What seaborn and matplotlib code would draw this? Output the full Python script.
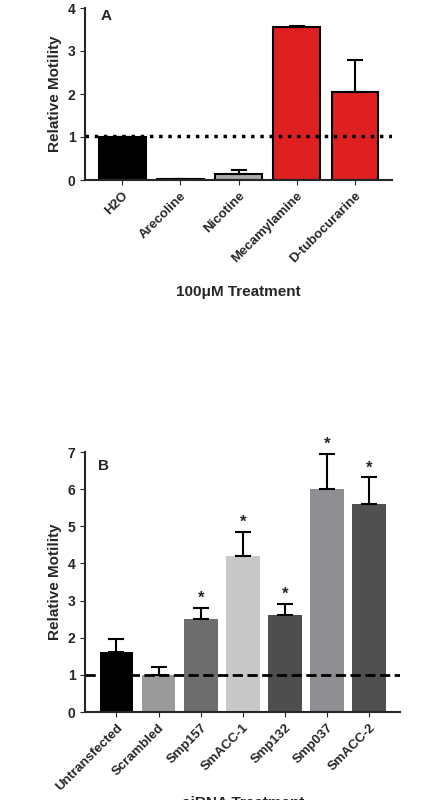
import matplotlib
matplotlib.use("Agg")
import matplotlib.pyplot as plt
import seaborn as sns
import pandas as pd

sns.set_style("ticks")
plt.rcParams['font.family'] = ['Liberation Sans', 'DejaVu Sans']
plt.rcParams['font.weight'] = 'bold'

a_cats = ["H2O", "Arecoline", "Nicotine", "Mecamylamine", "D-tubocurarine"]
a_vals = [1.0, 0.02, 0.15, 3.55, 2.05]
a_err = [0.0, 0.01, 0.08, 0.04, 0.73]
a_cols = ["#000000", "#555555", "#aaaaaa", "#ff0000", "#ff0000"]

b_cats = ["Untransfected", "Scrambled", "Smp157", "SmACC-1", "Smp132", "Smp037", "SmACC-2"]
b_vals = [1.62, 1.0, 2.5, 4.2, 2.62, 6.0, 5.6]
b_err = [0.35, 0.2, 0.3, 0.65, 0.3, 0.95, 0.72]
b_cols = ["#000000", "#9a9a9a", "#6e6e6e", "#c8c8c8", "#4e4e4e", "#8e8e94", "#505050"]
b_star = [False, False, True, True, True, True, True]

fig = plt.figure(figsize=(4.26, 8.0), dpi=100)
ax1 = fig.add_axes([0.2, 0.775, 0.72, 0.215])
ax2 = fig.add_axes([0.2, 0.11, 0.74, 0.325])

def fmt_x(ax):
    for t in ax.get_xticklabels():
        t.set_rotation(45); t.set_ha("right"); t.set_rotation_mode("anchor")
        t.set_fontweight("bold"); t.set_fontsize(9.5)

da = pd.DataFrame({"c": a_cats, "v": a_vals})
sns.barplot(data=da, x="c", y="v", hue="c", palette=a_cols, legend=False, ax=ax1,
            width=0.8, edgecolor="black", linewidth=1.5)
ax1.errorbar(range(len(a_cats)), a_vals, yerr=[[0]*5, a_err], fmt="none",
             ecolor="black", capsize=6, elinewidth=1.5, capthick=1.5)
ax1.axhline(1.03, color="black", ls=":", lw=2.5)
ax1.set_ylim(0, 4)
ax1.set_yticks([0, 1, 2, 3, 4])
ax1.set_ylabel("Relative Motility", fontsize=11, fontweight="bold")
ax1.set_xlabel("100\u03bcM Treatment", fontsize=11, fontweight="bold", labelpad=14)
fmt_x(ax1)
ax1.text(0.05, 0.93, "A", transform=ax1.transAxes, fontsize=11, fontweight="bold")
sns.despine(ax=ax1)

db = pd.DataFrame({"c": b_cats, "v": b_vals})
sns.barplot(data=db, x="c", y="v", hue="c", palette=b_cols, legend=False, ax=ax2,
            width=0.8, linewidth=0)
ax2.errorbar(range(len(b_cats)), b_vals, yerr=[[0]*7, b_err], fmt="none",
             ecolor="black", capsize=6, elinewidth=1.5, capthick=1.5)
for i, s in enumerate(b_star):
    if s:
        ax2.text(i, b_vals[i] + b_err[i] + 0.05, "*", ha="center", va="bottom",
                 fontsize=12, fontweight="bold")
ax2.axhline(1.0, color="black", ls="--", lw=2)
ax2.set_ylim(0, 7)
ax2.set_yticks(range(8))
ax2.set_ylabel("Relative Motility", fontsize=11, fontweight="bold")
ax2.set_xlabel("siRNA Treatment", fontsize=11, fontweight="bold", labelpad=2)
fmt_x(ax2)
ax2.text(0.04, 0.93, "B", transform=ax2.transAxes, fontsize=11, fontweight="bold")
sns.despine(ax=ax2)
for ax in (ax1, ax2):
    for sp in ax.spines.values():
        sp.set_linewidth(1.5)

fig.savefig("out.png", dpi=100)
